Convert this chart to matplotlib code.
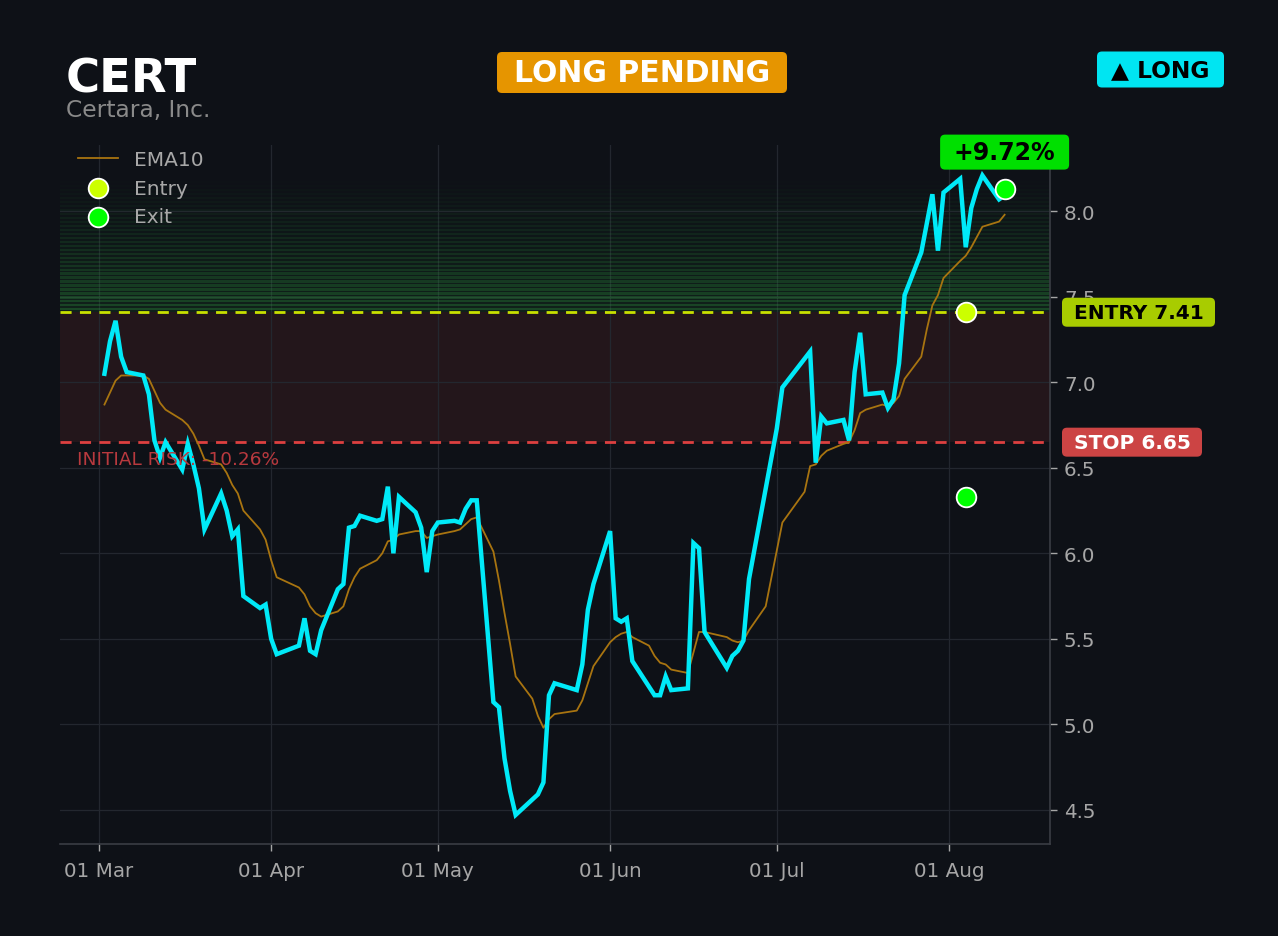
import matplotlib
matplotlib.use("Agg")
import matplotlib.pyplot as plt
import matplotlib.dates as mdates
from matplotlib.patches import FancyBboxPatch
from matplotlib.transforms import IdentityTransform
import numpy as np
import pandas as pd

# ---------------- data ----------------
ticker = "CERT"
company = "Certara, Inc."
status = "LONG PENDING"
side = "▲ LONG"
entry_price = 7.41
stop_price = 6.65
gain_label = "+9.72%"
risk_label = "INITIAL RISK: -10.26%"

price_dates = [
    "2026-03-02", "2026-03-03", "2026-03-04", "2026-03-05", "2026-03-06",
    "2026-03-09", "2026-03-10", "2026-03-11", "2026-03-12", "2026-03-13",
    "2026-03-16", "2026-03-17", "2026-03-18", "2026-03-19", "2026-03-20",
    "2026-03-23", "2026-03-24", "2026-03-25", "2026-03-26", "2026-03-27",
    "2026-03-30", "2026-03-31", "2026-04-01", "2026-04-02",
    "2026-04-06", "2026-04-07", "2026-04-08", "2026-04-09", "2026-04-10",
    "2026-04-13", "2026-04-14", "2026-04-15", "2026-04-16", "2026-04-17",
    "2026-04-20", "2026-04-21", "2026-04-22", "2026-04-23", "2026-04-24",
    "2026-04-27", "2026-04-28", "2026-04-29", "2026-04-30", "2026-05-01",
    "2026-05-04", "2026-05-05", "2026-05-06", "2026-05-07", "2026-05-08",
    "2026-05-11", "2026-05-12", "2026-05-13", "2026-05-14", "2026-05-15",
    "2026-05-19", "2026-05-20", "2026-05-21", "2026-05-22",
    "2026-05-26", "2026-05-27", "2026-05-28", "2026-05-29",
    "2026-06-01", "2026-06-02", "2026-06-03", "2026-06-04", "2026-06-05",
    "2026-06-09", "2026-06-10", "2026-06-11", "2026-06-12",
    "2026-06-15", "2026-06-16", "2026-06-17", "2026-06-18",
    "2026-06-22", "2026-06-23", "2026-06-24", "2026-06-25", "2026-06-26",
    "2026-07-01", "2026-07-02",
    "2026-07-07", "2026-07-08", "2026-07-09", "2026-07-10",
    "2026-07-13", "2026-07-14", "2026-07-15", "2026-07-16", "2026-07-17",
    "2026-07-20", "2026-07-21", "2026-07-22", "2026-07-23", "2026-07-24",
    "2026-07-27", "2026-07-29", "2026-07-30", "2026-07-31",
    "2026-08-03", "2026-08-04", "2026-08-05", "2026-08-06", "2026-08-07",
    "2026-08-10",
]
price_values = [
    7.05, 7.24, 7.36, 7.15, 7.06,
    7.04, 6.93, 6.66, 6.56, 6.65,
    6.49, 6.64, 6.52, 6.38, 6.14,
    6.35, 6.25, 6.10, 6.14, 5.75,
    5.68, 5.70, 5.50, 5.41,
    5.46, 5.62, 5.43, 5.41, 5.55,
    5.79, 5.82, 6.15, 6.16, 6.22,
    6.19, 6.20, 6.39, 6.00, 6.33,
    6.24, 6.15, 5.89, 6.13, 6.18,
    6.19, 6.18, 6.26, 6.31, 6.31,
    5.13, 5.10, 4.80, 4.61, 4.47,
    4.59, 4.66, 5.17, 5.24,
    5.20, 5.35, 5.67, 5.82,
    6.13, 5.62, 5.60, 5.62, 5.37,
    5.17, 5.17, 5.28, 5.20,
    5.21, 6.06, 6.03, 5.54,
    5.33, 5.40, 5.43, 5.49, 5.85,
    6.73, 6.97,
    7.18, 6.53, 6.80, 6.76,
    6.78, 6.66, 7.06, 7.29, 6.93,
    6.94, 6.85, 6.90, 7.11, 7.51,
    7.76, 8.10, 7.77, 8.11,
    8.19, 7.79, 8.02, 8.13, 8.21,
    8.07,
]

ema_dates = [
    "2026-03-02", "2026-03-03", "2026-03-04", "2026-03-05", "2026-03-06",
    "2026-03-09", "2026-03-10", "2026-03-11", "2026-03-12", "2026-03-13",
    "2026-03-16", "2026-03-17", "2026-03-18", "2026-03-19", "2026-03-20",
    "2026-03-23", "2026-03-24", "2026-03-25", "2026-03-26", "2026-03-27",
    "2026-03-30", "2026-03-31", "2026-04-01", "2026-04-02",
    "2026-04-06", "2026-04-07", "2026-04-08", "2026-04-09", "2026-04-10",
    "2026-04-13", "2026-04-14", "2026-04-15", "2026-04-16", "2026-04-17",
    "2026-04-20", "2026-04-21", "2026-04-22", "2026-04-23", "2026-04-24",
    "2026-04-27", "2026-04-28", "2026-04-29", "2026-04-30", "2026-05-01",
    "2026-05-04", "2026-05-05", "2026-05-06", "2026-05-07", "2026-05-08",
    "2026-05-11", "2026-05-12", "2026-05-13", "2026-05-14", "2026-05-15",
    "2026-05-18", "2026-05-19", "2026-05-20", "2026-05-21", "2026-05-22",
    "2026-05-26", "2026-05-27", "2026-05-28", "2026-05-29",
    "2026-06-01", "2026-06-02", "2026-06-03", "2026-06-04", "2026-06-05",
    "2026-06-08", "2026-06-09", "2026-06-10", "2026-06-11", "2026-06-12",
    "2026-06-15", "2026-06-16", "2026-06-17", "2026-06-18",
    "2026-06-22", "2026-06-23", "2026-06-24", "2026-06-25", "2026-06-26",
    "2026-06-29", "2026-07-02",
    "2026-07-06", "2026-07-07", "2026-07-08", "2026-07-09", "2026-07-10",
    "2026-07-13", "2026-07-14", "2026-07-15", "2026-07-16", "2026-07-17",
    "2026-07-20", "2026-07-21", "2026-07-22", "2026-07-23", "2026-07-24",
    "2026-07-27", "2026-07-28", "2026-07-29", "2026-07-30", "2026-07-31",
    "2026-08-03", "2026-08-04", "2026-08-05", "2026-08-06", "2026-08-07",
    "2026-08-10", "2026-08-11",
]
ema_values = [
    6.87, 6.94, 7.01, 7.04, 7.04,
    7.04, 7.02, 6.95, 6.88, 6.84,
    6.78, 6.75, 6.70, 6.63, 6.55,
    6.52, 6.47, 6.40, 6.35, 6.25,
    6.14, 6.08, 5.96, 5.86,
    5.80, 5.76, 5.69, 5.65, 5.63,
    5.66, 5.69, 5.79, 5.86, 5.91,
    5.96, 6.00, 6.07, 6.08, 6.11,
    6.13, 6.13, 6.09, 6.10, 6.11,
    6.13, 6.14, 6.17, 6.20, 6.21,
    6.01, 5.84, 5.65, 5.47, 5.28,
    5.15, 5.05, 4.98, 5.03, 5.06,
    5.08, 5.14, 5.24, 5.34,
    5.48, 5.51, 5.53, 5.54, 5.51,
    5.46, 5.40, 5.36, 5.35, 5.32,
    5.30, 5.42, 5.54, 5.54,
    5.51, 5.49, 5.48, 5.49, 5.55,
    5.69, 6.18,
    6.36, 6.51, 6.52, 6.57, 6.60,
    6.64, 6.65, 6.72, 6.82, 6.84,
    6.87, 6.86, 6.88, 6.92, 7.02,
    7.15, 7.31, 7.45, 7.51, 7.61,
    7.71, 7.74, 7.79, 7.85, 7.91,
    7.94, 7.98,
]

entry_dates = ["2026-08-04"]
entry_values = [7.41]
exit_dates = ["2026-08-04", "2026-08-11"]
exit_values = [6.33, 8.13]

y_ticks = [4.5, 5.0, 5.5, 6.0, 6.5, 7.0, 7.5, 8.0]
x_ticks = ["2026-03-01", "2026-04-01", "2026-05-01", "2026-06-01", "2026-07-01", "2026-08-01"]

# ---------------- style ----------------
W, H = 1278, 937
BG = "#0e1117"
CYAN = "#00eaf8"
EMA_C = "#a87410"
GRID = "#23272f"
TICK_C = "#a6a6a6"

plt.rcParams["font.family"] = ["DejaVu Sans"]

fig = plt.figure(figsize=(W / 100, H / 100), dpi=100, facecolor=BG)
ax = fig.add_axes([60 / W, 92 / H, 990 / W, 699 / H], facecolor=BG)

pd_price = pd.to_datetime(price_dates)
pd_ema = pd.to_datetime(ema_dates)

ax.set_xlim(pd.Timestamp("2026-02-22"), pd.Timestamp("2026-08-19 04:00"))
ax.set_ylim(4.30, 8.388)

# risk zone
ax.axhspan(stop_price, entry_price, color="#23161b", zorder=0.5, lw=0)

# green gradient zone above entry
zone_top = 8.20
n_bands = 34
edges = np.linspace(entry_price, zone_top, n_bands + 1)
for i in range(n_bands):
    frac = i / n_bands
    a = 0.36 * (1 - frac) ** 1.2
    lo, hi = edges[i], edges[i + 1]
    h = hi - lo
    ax.axhspan(lo, hi, color="#1a6a2a", alpha=a * 0.5, lw=0, zorder=0.6)
    ax.axhspan(lo + h * 0.45, hi, color="#2a8a3a", alpha=a, lw=0, zorder=0.6)

ax.grid(True, color=GRID, lw=0.9, zorder=0.7)
ax.set_axisbelow(True)

ax.axhline(entry_price, color="#c8e000", lw=2.0, ls=(0, (4, 3)), zorder=3)
ax.axhline(stop_price, color="#dd4040", lw=2.0, ls=(0, (4, 3)), zorder=3)

ax.plot(pd_ema, ema_values, color=EMA_C, lw=1.3, zorder=4, label="EMA10")
ax.plot(pd_price, price_values, color=CYAN, lw=3.2, zorder=5, solid_joinstyle="miter")

ax.scatter(pd.to_datetime(entry_dates), entry_values, s=200, color="#ccff00",
           edgecolor="white", linewidth=1.3, zorder=7, label="Entry")
ax.scatter(pd.to_datetime(exit_dates), exit_values, s=200, color="#00ff00",
           edgecolor="white", linewidth=1.3, zorder=7, label="Exit")

# axes styling
for s in ["left", "top"]:
    ax.spines[s].set_visible(False)
for s in ["right", "bottom"]:
    ax.spines[s].set_color("#3a3d44")
    ax.spines[s].set_linewidth(1.2)
ax.yaxis.tick_right()
ax.set_yticks(y_ticks)
ax.set_yticklabels([f"{v:.1f}" for v in y_ticks])
ax.set_xticks(pd.to_datetime(x_ticks))
ax.xaxis.set_major_formatter(mdates.DateFormatter("%d %b"))
ax.tick_params(axis="both", colors=TICK_C, labelsize=14.3, length=5, width=1)
ax.tick_params(axis="x", pad=7)
ax.tick_params(axis="y", pad=5)
for t in ax.get_xticklabels() + ax.get_yticklabels():
    t.set_color(TICK_C)

# legend
leg = ax.legend(loc="upper left", frameon=False, fontsize=14.5, labelcolor="#a8a8a8",
                handlelength=2.0, handletextpad=0.8, borderaxespad=0.0, borderpad=0.4,
                labelspacing=0.47, bbox_to_anchor=(10 / 990, 1 + 3 / 699))


# boxed labels drawn in pixel space
def pixel_box(cx, cy, w, h, fc, text, color, size):
    """cx, cy in pixels from the top-left corner."""
    y_disp = H - cy
    patch = FancyBboxPatch((cx - w / 2, y_disp - h / 2), w, h,
                           boxstyle="round,pad=0,rounding_size=5",
                           fc=fc, ec="none", transform=IdentityTransform(), zorder=20)
    fig.add_artist(patch)
    fig.text(cx / W, y_disp / H, text, fontsize=size, fontweight="bold", color=color,
             ha="center", va="center", zorder=21)


def data_y_px(v):
    return H - ax.transData.transform((0, v))[1]


def data_xy_px(d, v):
    xd, yd = ax.transData.transform((mdates.date2num(pd.Timestamp(d)), v))
    return xd, H - yd


right_px = 1050
pixel_box(right_px + 12 + 153 / 2, data_y_px(entry_price), 153, 29, "#a8cc00",
          f"ENTRY {entry_price:.2f}", "black", 14.5)
pixel_box(right_px + 12 + 140 / 2, data_y_px(stop_price), 140, 29, "#cc4444",
          f"STOP {stop_price:.2f}", "white", 14.5)
ex, ey = data_xy_px(exit_dates[-1], exit_values[-1])
pixel_box(ex, ey - 37, 129, 35, "#00e000", gain_label, "black", 17)

ax.text(0.017, stop_price - 0.10, risk_label, transform=ax.get_yaxis_transform(),
        ha="left", va="center", fontsize=13.3, color="#b8393e", zorder=6)

# titles
fig.text(66 / W, 1 - 80 / H, ticker, fontsize=33.5, fontweight="bold", color="white",
         ha="left", va="center")
fig.text(66 / W, 1 - 110 / H, company, fontsize=16.8, color="#8a8a8a",
         ha="left", va="center")
pixel_box(642, 73.5, 290, 41, "#e69500", status, "white", 21.5)
pixel_box(1160.5, 70.5, 127, 36, "#00e5f2", side, "black", 16.8)

fig.savefig("out.png", dpi=100, facecolor=BG)
